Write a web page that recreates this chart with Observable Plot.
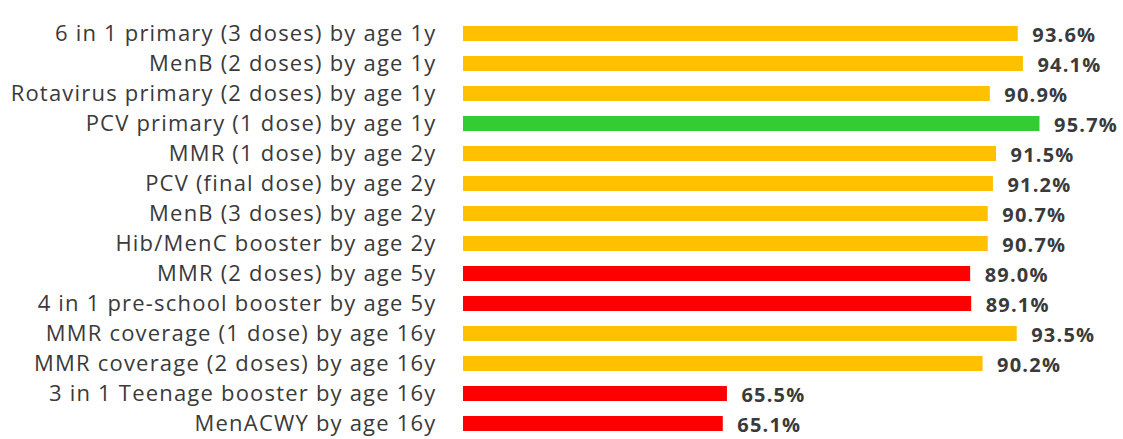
<!DOCTYPE html>
<html>
<head>
<meta charset="utf-8">
<script src="https://cdn.jsdelivr.net/npm/d3@7"></script>
<script src="https://cdn.jsdelivr.net/npm/@observablehq/plot@0.6"></script>
<style>
  html, body { margin: 0; padding: 0; background: #fff; }
  #chart svg { display: block; }
</style>
</head>
<body>
<div id="chart"></div>
<script>
const categories = [
  "6 in 1 primary (3 doses) by age 1y",
  "MenB (2 doses) by age 1y",
  "Rotavirus primary (2 doses) by age 1y",
  "PCV primary (1 dose) by age 1y",
  "MMR (1 dose) by age 2y",
  "PCV (final dose) by age 2y",
  "MenB (3 doses) by age 2y",
  "Hib/MenC booster by age 2y",
  "MMR (2 doses) by age 5y",
  "4 in 1 pre-school booster by age 5y",
  "MMR coverage (1 dose) by age 16y",
  "MMR coverage (2 doses) by age 16y",
  "3 in 1 Teenage booster by age 16y",
  "MenACWY by age 16y"
];
const values = [93.6, 94.1, 90.9, 95.7, 91.5, 91.2, 90.7, 90.7, 89.0, 89.1, 93.5, 90.2, 65.5, 65.1];
const status = ["amber","amber","amber","green","amber","amber","amber","amber","red","red","amber","amber","red","red"];
const statusColors = {amber: "#FFC000", green: "#33CC33", red: "#FF0000"};

const data = categories.map((c, i) => ({category: c, value: values[i], status: status[i]}));

const chart = Plot.plot({
  width: 1123,
  height: 439,
  marginLeft: 463,
  marginRight: 39,
  marginTop: 20,
  marginBottom: 3,
  style: {fontFamily: "'Open Sans', sans-serif", fontSize: "22px", letterSpacing: "1.2px", color: "#3a3a3a", background: "#fff"},
  x: {domain: [40, 100], axis: null},
  y: {domain: categories, paddingInner: 0.5, paddingOuter: 0, label: null, tickSize: 0, tickPadding: 27},
  color: {domain: Object.keys(statusColors), range: Object.values(statusColors)},
  marks: [
    Plot.barX(data, {y: "category", x1: d => 40, x2: "value", fill: "status"}),
    Plot.text(data, {
      y: "category", x: "value", text: d => d.value.toFixed(1) + "%",
      dx: 14, dy: 2, textAnchor: "start", fontWeight: "bold", fontSize: 20, fill: "#3a3a3a"
    })
  ]
});
document.getElementById("chart").appendChild(chart);
</script>
</body>
</html>
